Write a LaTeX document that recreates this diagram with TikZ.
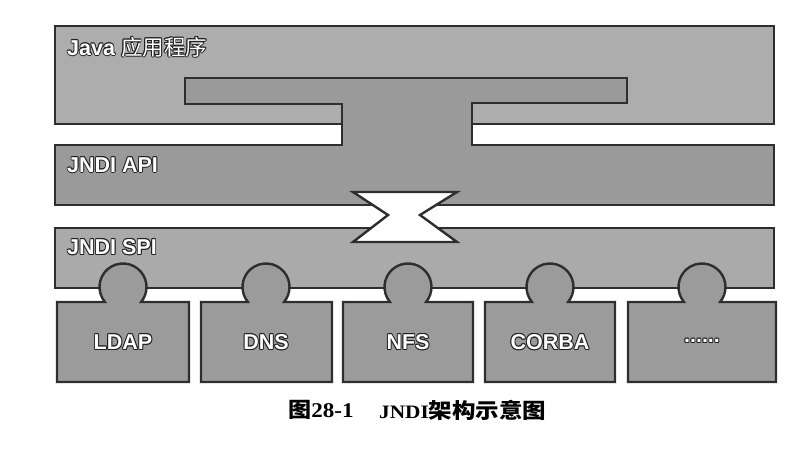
\documentclass[tikz,border=0pt]{standalone}
\usepackage{fontspec}
\setmainfont{Liberation Sans}
\newfontfamily\cjk{Noto Sans CJK SC}
\newfontfamily\capserif{Liberation Serif}
\definecolor{edge}{HTML}{2E2E2E}
\definecolor{javafill}{HTML}{ADADAD}
\definecolor{apifill}{HTML}{9A9A9A}
\definecolor{spifill}{HTML}{AAAAAA}
\definecolor{boxfill}{HTML}{9B9B9B}
\definecolor{txtout}{HTML}{202020}
\newlength\olw \setlength\olw{0.9pt}
\newcommand\olt[1]{\leavevmode
 \rlap{\color{txtout}\kern-\olw#1}\rlap{\color{txtout}\kern\olw#1}%
 \rlap{\color{txtout}\raisebox{\olw}{#1}}\rlap{\color{txtout}\raisebox{-\olw}{#1}}%
 \rlap{\color{txtout}\kern-.7\olw\raisebox{.7\olw}{#1}}\rlap{\color{txtout}\kern.7\olw\raisebox{.7\olw}{#1}}%
 \rlap{\color{txtout}\kern-.7\olw\raisebox{-.7\olw}{#1}}\rlap{\color{txtout}\kern.7\olw\raisebox{-.7\olw}{#1}}%
 {\color{white}#1}}
\tikzset{
 layer/.style={draw=edge, line width=2.4pt, line join=miter},
 lbl/.style={inner sep=0pt, font=\bfseries\fontsize{21.5}{24}\selectfont},
 knobbox/.style={draw=edge, fill=boxfill, line width=2.4pt, line join=miter},
}
\begin{document}
\begin{tikzpicture}[x=1pt,y=-1pt]
\useasboundingbox (0,0) rectangle (806,450);
% Java application layer (with T-shaped cut-out)
\draw[layer, fill=javafill] (55,26) -- (774,26) -- (774,124) -- (472,124) -- (472,103)
  -- (627,103) -- (627,78) -- (185,78) -- (185,104) -- (342,104) -- (342,124) -- (55,124) -- cycle;
% JNDI API layer with T-shaped top
\draw[layer, fill=apifill] (55,145) -- (342,145) -- (342,104) -- (185,104) -- (185,78)
  -- (627,78) -- (627,103) -- (472,103) -- (472,145) -- (774,145) -- (774,205) -- (55,205) -- cycle;
% JNDI SPI layer
\draw[layer, fill=spifill] (55,228) rectangle (774,288);
% hourglass
\draw[layer, fill=white] (353,192) -- (457,192) -- (420,215) -- (457,242) -- (353,242) -- (388,215) -- cycle;
% service provider boxes with knobs
\foreach \xa/\xb/\cx in {57/189/123, 201/332/266, 343/473/408, 485/615/550, 628/776/702}{
  \draw[knobbox] (\xa,302) -- (\cx-18.09,302) arc[start angle=140.3, end angle=399.7, radius=23.5]
    -- (\xb,302) -- (\xb,382) -- (\xa,382) -- cycle;
}
% labels
\node[lbl, anchor=west] (java) at (67,47) {\olt{Java {\cjk\mdseries 应用程序}}};
\node[lbl, anchor=west] (api) at (67,165) {\olt{JNDI API}};
\node[lbl, anchor=west] (spi) at (67,247) {\olt{JNDI SPI}};
\node[lbl] (ldap) at (123,342) {\olt{LDAP}};
\node[lbl] (dns) at (266,342) {\olt{DNS}};
\node[lbl] (nfs) at (408,342) {\olt{NFS}};
\node[lbl] (corba) at (550,342) {\olt{CORBA}};
\node[lbl] (more) at (702,341) {\olt{......}};
% caption
\node[inner sep=0pt, anchor=west] (cap1) at (288,410) {\scalebox{1.1}[1]{{\cjk\bfseries\fontsize{21}{24}\selectfont 图}{\capserif\bfseries\fontsize{21}{24}\selectfont 28-1}}};
\node[inner sep=0pt, anchor=west] (cap2) at (379,410) {\scalebox{1.12}[1]{{\capserif\bfseries\fontsize{19}{22}\selectfont JNDI}{\cjk\bfseries\fontsize{21}{24}\selectfont 架构示意图}}};
\end{tikzpicture}
\end{document}
